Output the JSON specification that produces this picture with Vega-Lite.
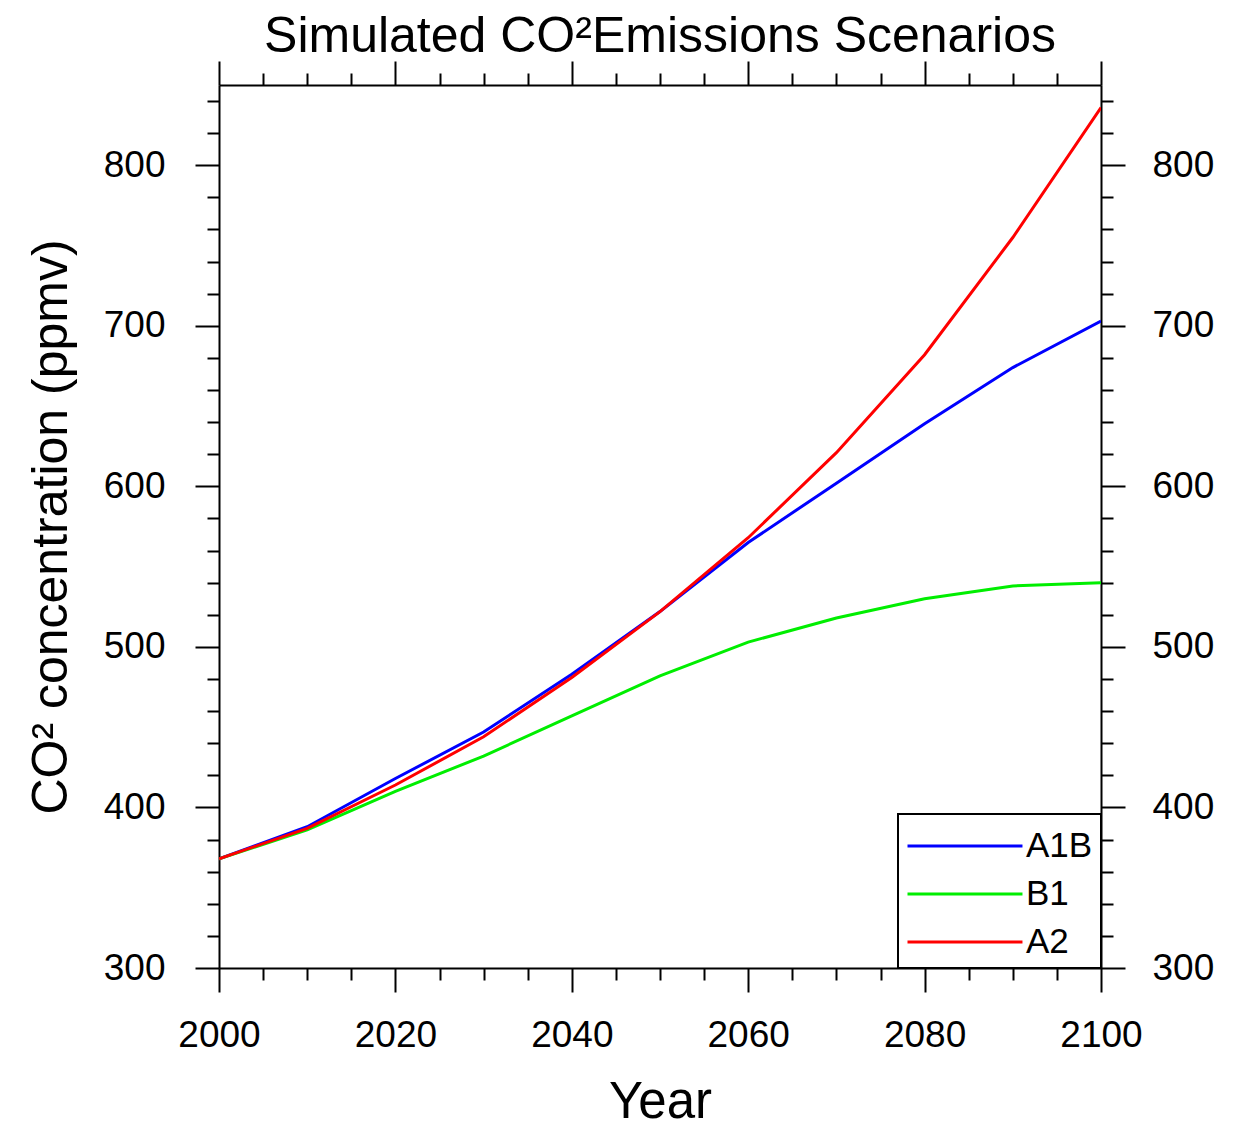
{
  "$schema": "https://vega.github.io/schema/vega-lite/v6.json",
  "width": 882,
  "height": 883,
  "autosize": {"type": "none"},
  "padding": {"left": 219, "top": 85, "right": 142, "bottom": 157},
  "background": "white",
  "title": {"text": "Simulated CO²Emissions Scenarios", "fontSize": 50, "font": "Liberation Sans", "fontWeight": "normal", "color": "black", "offset": -2, "anchor": "middle"},
  "config": {
    "view": {"stroke": null},
    "legend": {"strokeWidth": 2},
    "axis": {"domainColor": "black", "domainWidth": 2, "tickColor": "black", "tickWidth": 2, "labelFont": "Liberation Sans", "labelFontSize": 37, "labelColor": "black", "titleFont": "Liberation Sans", "titleFontWeight": "normal", "titleColor": "black", "grid": false, "labelOverlap": false, "labelBound": false, "labelFlush": false}
  },
  "data": {"values": [
    {"year": 2000, "scenario": "A1B", "co2": 368},
    {"year": 2010, "scenario": "A1B", "co2": 388},
    {"year": 2020, "scenario": "A1B", "co2": 418},
    {"year": 2030, "scenario": "A1B", "co2": 447},
    {"year": 2040, "scenario": "A1B", "co2": 483},
    {"year": 2050, "scenario": "A1B", "co2": 522},
    {"year": 2060, "scenario": "A1B", "co2": 565},
    {"year": 2070, "scenario": "A1B", "co2": 602},
    {"year": 2080, "scenario": "A1B", "co2": 639},
    {"year": 2090, "scenario": "A1B", "co2": 674},
    {"year": 2100, "scenario": "A1B", "co2": 703},
    {"year": 2000, "scenario": "B1", "co2": 368},
    {"year": 2010, "scenario": "B1", "co2": 386},
    {"year": 2020, "scenario": "B1", "co2": 410},
    {"year": 2030, "scenario": "B1", "co2": 432},
    {"year": 2040, "scenario": "B1", "co2": 457},
    {"year": 2050, "scenario": "B1", "co2": 482},
    {"year": 2060, "scenario": "B1", "co2": 503},
    {"year": 2070, "scenario": "B1", "co2": 518},
    {"year": 2080, "scenario": "B1", "co2": 530},
    {"year": 2090, "scenario": "B1", "co2": 538},
    {"year": 2100, "scenario": "B1", "co2": 540},
    {"year": 2000, "scenario": "A2", "co2": 368},
    {"year": 2010, "scenario": "A2", "co2": 387},
    {"year": 2020, "scenario": "A2", "co2": 414},
    {"year": 2030, "scenario": "A2", "co2": 444},
    {"year": 2040, "scenario": "A2", "co2": 481},
    {"year": 2050, "scenario": "A2", "co2": 522},
    {"year": 2060, "scenario": "A2", "co2": 568},
    {"year": 2070, "scenario": "A2", "co2": 621},
    {"year": 2080, "scenario": "A2", "co2": 682},
    {"year": 2090, "scenario": "A2", "co2": 755},
    {"year": 2100, "scenario": "A2", "co2": 836}
  ]},
  "layer": [
    {
      "mark": {"type": "line", "strokeWidth": 3, "clip": true},
      "encoding": {
        "x": {"field": "year", "type": "quantitative", "scale": {"domain": [2000, 2100], "nice": false, "zero": false},
          "axis": {"orient": "bottom", "title": "Year", "titleFontSize": 51, "titlePadding": 24, "values": [2000,2005,2010,2015,2020,2025,2030,2035,2040,2045,2050,2055,2060,2065,2070,2075,2080,2085,2090,2095,2100], "format": "d",
            "labelExpr": "datum.value % 20 === 0 ? datum.label : ''",
            "tickSize": {"condition": {"test": "datum.value % 20 === 0", "value": 24}, "value": 12},
            "labelPadding": 25}},
        "y": {"field": "co2", "type": "quantitative", "scale": {"domain": [300, 850], "nice": false, "zero": false},
          "axis": {"orient": "left", "title": "CO² concentration (ppmv)", "titleFontSize": 50, "titlePadding": 27,
            "values": [300,320,340,360,380,400,420,440,460,480,500,520,540,560,580,600,620,640,660,680,700,720,740,760,780,800,820,840],
            "labelExpr": "datum.value % 100 === 0 ? datum.label : ''",
            "tickSize": {"condition": {"test": "datum.value % 100 === 0", "value": 24}, "value": 12},
            "labelPadding": 30}},
        "color": {"field": "scenario", "type": "nominal",
          "scale": {"domain": ["A1B", "B1", "A2"], "range": ["#0000ff", "#00ee00", "#ff0000"]},
          "legend": {"title": null, "orient": "bottom-right", "offset": 0, "strokeColor": "black", "fillColor": "white", "padding": 8,
            "symbolType": "M-1,0H4.11", "symbolSize": 2025, "symbolStrokeWidth": 3, "labelOffset": 72,
            "labelFont": "Liberation Sans", "labelFontSize": 35, "labelColor": "black", "rowPadding": 6}}
      }
    },
    {
      "mark": {"type": "line", "strokeOpacity": 0},
      "encoding": {
        "x": {"field": "year", "type": "quantitative",
          "axis": {"orient": "top", "title": null, "labels": false, "values": [2000,2005,2010,2015,2020,2025,2030,2035,2040,2045,2050,2055,2060,2065,2070,2075,2080,2085,2090,2095,2100],
            "tickSize": {"condition": {"test": "datum.value % 20 === 0", "value": 24}, "value": 12}}},
        "y": {"field": "co2", "type": "quantitative",
          "axis": {"orient": "right", "title": null,
            "values": [300,320,340,360,380,400,420,440,460,480,500,520,540,560,580,600,620,640,660,680,700,720,740,760,780,800,820,840],
            "labelExpr": "datum.value % 100 === 0 ? datum.label : ''",
            "tickSize": {"condition": {"test": "datum.value % 100 === 0", "value": 24}, "value": 12},
            "labelPadding": 27}},
        "detail": {"field": "scenario"}
      }
    }
  ],
  "resolve": {"axis": {"x": "independent", "y": "independent"}}
}
